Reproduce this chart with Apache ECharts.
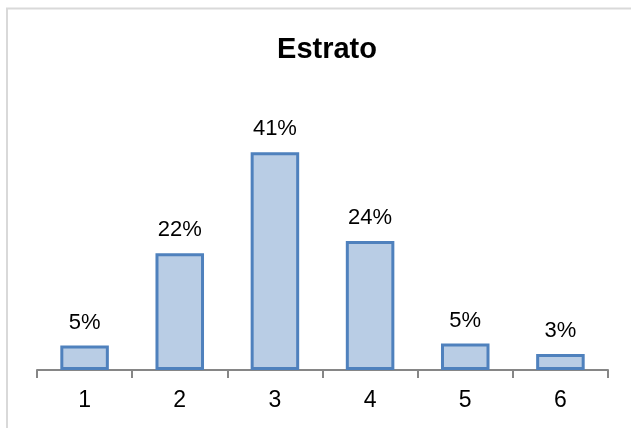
<!DOCTYPE html>
<html>
<head>
<meta charset="utf-8">
<script src="https://cdn.jsdelivr.net/npm/echarts@6/dist/echarts.min.js"></script>
<style>
html,body{margin:0;padding:0;background:#fff;}
#chart{width:631px;height:428px;}
</style>
</head>
<body>
<div id="chart"></div>
<script>
const categories = ['1', '2', '3', '4', '5', '6'];
const values = [4.6, 22, 41, 24.3, 5.0, 3.0];
const titleText = 'Estrato';

const chart = echarts.init(document.getElementById('chart'), null, {renderer: 'canvas'});
chart.setOption({
  animation: false,
  backgroundColor: '#fff',
  graphic: [{
    type: 'rect',
    shape: {x: 7, y: 8.5, width: 700, height: 500},
    style: {fill: 'none', stroke: '#d9d9d9', lineWidth: 2},
    silent: true,
    z: -10
  }],
  title: {
    text: titleText,
    left: 322,
    top: 30,
    textAlign: 'center',
    textStyle: {fontFamily: 'Liberation Sans, Arial, sans-serif', fontWeight: 'bold', fontSize: 29, color: '#000'}
  },
  grid: {left: 37, right: 23, top: 131, bottom: 58},
  xAxis: {
    type: 'category',
    data: categories,
    axisLine: {lineStyle: {color: '#868686', width: 2}},
    axisTick: {show: true, length: 8, lineStyle: {color: '#868686', width: 2}},
    axisLabel: {fontFamily: 'Liberation Sans, Arial, sans-serif', fontSize: 23, color: '#000', margin: 19}
  },
  yAxis: {
    type: 'value',
    min: 0,
    max: 45,
    show: false,
    splitLine: {show: false}
  },
  series: [{
    type: 'bar',
    data: values,
    barWidth: '51%',
    itemStyle: {color: '#B9CDE5', borderColor: '#4F81BD', borderWidth: 3},
    label: {
      show: true,
      position: 'top',
      distance: 12,
      formatter: p => Math.round(p.value) + '%',
      fontFamily: 'Liberation Sans, Arial, sans-serif',
      fontSize: 22,
      color: '#000'
    }
  }]
});
</script>
</body>
</html>
